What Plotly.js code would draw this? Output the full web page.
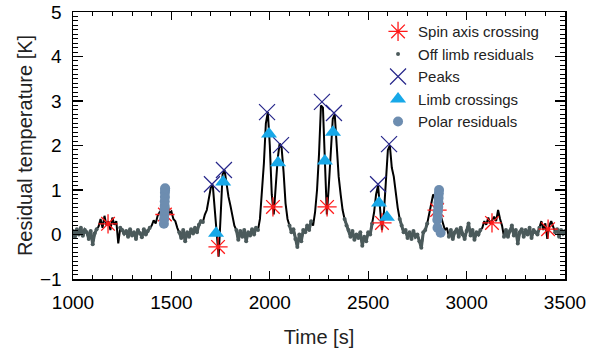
<!DOCTYPE html>
<html>
<head>
<meta charset="utf-8">
<script src="https://cdn.plot.ly/plotly-3.0.1.min.js"></script>
<style>html,body{margin:0;padding:0;background:#fff}#chart{width:590px;height:348px}</style>
</head>
<body>
<div id="chart"></div>
<script>
// ---- data ----
const timeS = [1000,1010,1020,1030,1040,1050,1060,1070,1080,1090,1100,1110,1120,1130,1140,1150,1160,1170,1180,1190,
1200,1210,1220,1230,1240,1250,1260,1270,1280,1290,1300,1310,1320,1330,1340,1350,1360,1370,1380,1390,
1400,1410,1420,1430,1440,1450,1460,1470,1480,1490,1500,1510,1520,1530,1540,1550,1560,1570,1580,1590,
1600,1610,1620,1630,1640,1650,1660,1670,1680,1690,1700,1710,1720,1730,1740,1750,1760,1770,1780,1790,
1800,1810,1820,1830,1840,1850,1860,1870,1880,1890,1900,1910,1920,1930,1940,1950,1960,1970,1980,1990,
2000,2010,2020,2030,2040,2050,2060,2070,2080,2090,2100,2110,2120,2130,2140,2150,2160,2170,2180,2190,
2200,2210,2220,2230,2240,2250,2260,2270,2280,2290,2300,2310,2320,2330,2340,2350,2360,2370,2380,2390,
2400,2410,2420,2430,2440,2450,2460,2470,2480,2490,2500,2510,2520,2530,2540,2550,2560,2570,2580,2590,
2600,2610,2620,2630,2640,2650,2660,2670,2680,2690,2700,2710,2720,2730,2740,2750,2760,2770,2780,2790,
2800,2810,2820,2830,2840,2850,2860,2870,2880,2890,2900,2910,2920,2930,2940,2950,2960,2970,2980,2990,
3000,3010,3020,3030,3040,3050,3060,3070,3080,3090,3100,3110,3120,3130,3140,3150,3160,3170,3180,3190,
3200,3210,3220,3230,3240,3250,3260,3270,3280,3290,3300,3310,3320,3330,3340,3350,3360,3370,3380,3390,
3400,3410,3420,3430,3440,3450,3460,3470,3480,3490,3500];
const residualK = [0.08,-0.05,0.12,0.00,0.15,-0.03,0.10,0.05,-0.10,0.08,-0.22,0.02,0.12,0.18,0.35,0.15,0.42,0.20,0.30,0.10,
0.38,0.22,0.30,-0.20,0.15,0.10,0.02,0.08,-0.05,0.12,-0.02,0.05,-0.10,0.10,0.03,-0.06,0.12,0.00,0.08,0.15,
0.20,0.32,0.25,0.42,0.50,0.45,0.62,0.55,0.70,0.48,0.52,0.35,0.30,0.15,0.05,-0.08,0.10,-0.15,0.05,-0.05,
0.12,0.02,0.15,0.05,0.22,0.30,0.28,0.45,0.55,0.80,1.05,1.12,0.60,-0.05,-0.50,0.40,1.35,1.45,1.10,0.85,
0.65,0.45,0.20,0.10,-0.12,0.08,-0.05,0.10,-0.15,0.05,-0.02,0.12,0.00,0.15,0.10,0.35,0.90,1.60,2.50,2.75,
2.00,0.90,0.45,1.20,1.70,2.05,1.95,1.40,0.70,0.35,0.20,0.05,0.12,-0.10,-0.28,0.00,-0.15,0.10,0.05,0.20,
0.10,0.30,0.20,0.50,1.00,1.80,2.90,2.85,1.60,0.45,1.10,2.00,2.60,2.70,1.90,1.30,0.90,0.55,0.35,0.20,
0.10,-0.05,0.08,-0.12,0.00,-0.08,0.05,-0.25,-0.05,-0.15,0.05,0.00,0.25,0.50,0.90,1.10,0.60,0.10,0.50,1.20,
1.90,2.00,1.50,1.30,0.90,0.60,0.35,0.20,0.05,0.10,-0.08,0.05,-0.10,0.08,-0.05,0.00,-0.15,-0.30,0.05,0.10,
0.25,0.45,0.70,0.90,0.80,0.75,0.55,0.40,0.30,0.10,0.15,-0.05,0.10,-0.10,0.05,0.12,-0.05,0.15,0.00,-0.10,
0.08,0.25,-0.02,0.10,-0.12,0.05,0.00,0.10,0.15,0.30,0.22,0.38,0.25,0.32,0.40,0.30,0.55,0.35,0.20,-0.05,
0.10,-0.05,0.08,0.20,-0.02,0.10,-0.20,0.05,0.12,-0.05,0.10,0.00,0.15,-0.08,0.10,0.05,0.00,0.15,0.30,0.10,
0.25,-0.10,0.20,0.30,0.15,0.05,0.12,-0.05,0.10,0.02,0.08];

// time windows in which the sample is off limb
const offLimbStart = [1000,1235,1535,1825,2095,2375,2655,2905,3185,3445];
const offLimbEnd   = [1125,1395,1665,1945,2215,2520,2800,3075,3370,3500];

const spinTime  = [1178,1467,1737,2016,2291,2570,2850,3129,3414];
const spinTemp  = [0.24,0.45,-0.28,0.62,0.62,0.26,0.55,0.26,0.12];

const peakTime  = [1706,1767,1986,2057,2265,2326,2550,2606];
const peakTemp  = [1.13,1.45,2.75,2.01,2.98,2.73,1.13,2.03];

const limbTime  = [1727,1763,1996,2042,2280,2321,2555,2595];
const limbTemp  = [0.03,1.18,2.26,1.61,1.65,2.30,0.71,0.39];

const polarTime = [1462,1463,1464,1465,1466,1466,1467,1467,1468,1468,2851,2853,2854,2856,2857,2858,2859,2860,2852,2868];
const polarTemp = [0.24,0.34,0.44,0.54,0.64,0.74,0.84,0.94,1.00,1.04,0.33,0.42,0.52,0.62,0.72,0.82,0.92,1.00,0.15,0.04];

// ---- build traces ----
const offT = [], offV = [];
timeS.forEach((t, i) => {
  let inside = false;
  for (let k = 0; k < offLimbStart.length; k++) {
    if (t >= offLimbStart[k] && t <= offLimbEnd[k]) { inside = true; break; }
  }
  if (inside) { offT.push(t); offV.push(residualK[i]); } else { offT.push(null); offV.push(null); }
});

const FONT = 'Liberation Sans, Arial, Helvetica, sans-serif';
const grayC = '#4b5a5b';

const traces = [
  {x: timeS, y: residualK, mode: 'lines', line: {color: '#000', width: 2}, showlegend: false, hoverinfo: 'skip'},
  {x: offT, y: offV, mode: 'lines', line: {color: grayC, width: 3}, connectgaps: false, showlegend: false, hoverinfo: 'skip'},
  {x: offT, y: offV, mode: 'markers', name: 'Off limb residuals', legendrank: 2,
   marker: {color: grayC, size: 4, symbol: 'circle'}},
  {x: spinTime, y: spinTemp, mode: 'markers', name: 'Spin axis crossing', legendrank: 1,
   marker: {symbol: 'asterisk-open', size: 16, color: '#ff1a1a', line: {color: '#ff1a1a', width: 1.3}}},
  {x: peakTime, y: peakTemp, mode: 'markers', name: 'Peaks', legendrank: 3,
   marker: {symbol: 'x-thin-open', size: 16, color: '#26268a', line: {color: '#26268a', width: 1.2}}},
  {x: limbTime, y: limbTemp, mode: 'markers', name: 'Limb crossings', legendrank: 4,
   marker: {symbol: 'triangle-up', size: 14, color: '#17a8e8'}},
  {x: polarTime, y: polarTemp, mode: 'markers', name: 'Polar residuals', legendrank: 5,
   marker: {symbol: 'circle', size: 10, color: '#6d8db0'}}
];

const layout = {
  width: 590, height: 348,
  margin: {l: 73, r: 25, t: 12, b: 69},
  paper_bgcolor: '#fff', plot_bgcolor: '#fff',
  font: {family: FONT, color: '#000', size: 19},
  showlegend: true,
  legend: {x: 0.62, y: 0.988, xanchor: 'left', yanchor: 'top', bgcolor: 'rgba(0,0,0,0)',
           font: {family: FONT, size: 15, color: '#222'}, tracegroupgap: 0, itemwidth: 30},
  xaxis: {
    range: [1000, 3500], dtick: 500, tick0: 1000,
    ticks: 'inside', ticklen: 8, tickwidth: 1.2, tickcolor: '#000',
    minor: {dtick: 100, ticks: 'inside', ticklen: 4, tickcolor: '#000', tickwidth: 1},
    showline: true, linecolor: '#000', linewidth: 1.5, mirror: 'allticks',
    showgrid: false, zeroline: false,
    tickfont: {size: 19, family: FONT}, ticklabelstandoff: 6,
    title: {text: 'Time [s]', font: {size: 20, family: FONT, color: '#222'}, standoff: 19}
  },
  yaxis: {
    range: [-1, 5], dtick: 1,
    ticks: 'inside', ticklen: 10, tickwidth: 1.2, tickcolor: '#000',
    minor: {dtick: 0.1, ticks: 'inside', ticklen: 5, tickcolor: '#000', tickwidth: 1},
    showline: true, linecolor: '#000', linewidth: 1.5, mirror: 'allticks',
    showgrid: false, zeroline: false,
    tickfont: {size: 19, family: FONT}, ticklabelstandoff: 6,
    title: {text: 'Residual temperature [K]', font: {size: 20, family: FONT, color: '#222'}, standoff: 2}
  }
};

Plotly.newPlot('chart', traces, layout, {staticPlot: true, displayModeBar: false});
</script>
</body>
</html>
